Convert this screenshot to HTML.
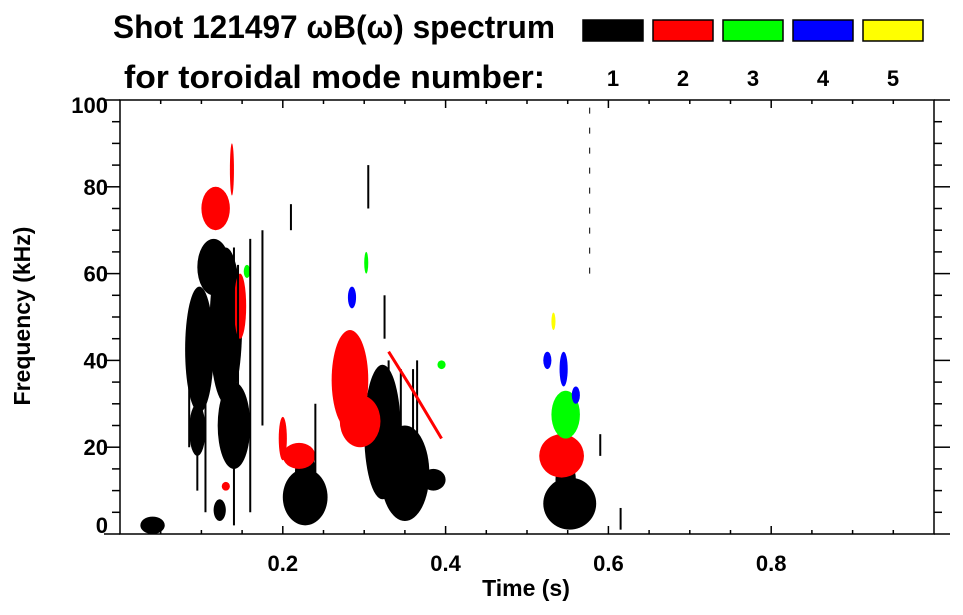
<!DOCTYPE html>
<html><head><meta charset="utf-8"><style>
html,body{margin:0;padding:0;background:#fff;}
svg{display:block;font-family:"Liberation Sans",sans-serif;font-weight:bold;}
</style></head><body>
<svg id="chart" width="963" height="615" viewBox="0 0 963 615" xmlns="http://www.w3.org/2000/svg">
<text x="113" y="38" font-size="32" textLength="442" lengthAdjust="spacingAndGlyphs">Shot 121497 ωB(ω) spectrum</text>
<text x="124" y="88" font-size="32" textLength="421" lengthAdjust="spacingAndGlyphs">for toroidal mode number:</text>
<g id="legend"></g>
<g id="marks"></g>
<g id="axes"></g>
<text x="526" y="596" font-size="23" text-anchor="middle">Time (s)</text>
<text transform="translate(30,316) rotate(-90)" font-size="23" text-anchor="middle">Frequency (kHz)</text>
</svg>
<script>
const modeColors = ['#000000','#ff0000','#00ff00','#0000ff','#ffff00'];
const modeLabels = ['1','2','3','4','5'];
const xTicks = [0.2,0.4,0.6,0.8];
const yTicks = [0,20,40,60,80,100];
// blobs: mode, t0, t1, f0, f1
const blobMode = [1,1,1,1,1,1,1,1,1,1,1,1,1,1, 2,2,2,2,2,2,2,2,2, 3,3,3,3, 4,4,4,4, 5];
const blobT0 = [0.08,0.085,0.11,0.12,0.095,0.115,0.2,0.215,0.30,0.32,0.37,0.52,0.535,0.025, 0.26,0.27,0.2,0.195,0.515,0.10,0.14,0.135,0.125, 0.53,0.30,0.152,0.39, 0.52,0.54,0.555,0.28, 0.53];
const blobT1 = [0.115,0.105,0.15,0.16,0.135,0.13,0.255,0.24,0.345,0.38,0.40,0.585,0.56,0.055, 0.305,0.32,0.24,0.205,0.57,0.135,0.155,0.14,0.135, 0.565,0.305,0.16,0.40, 0.53,0.55,0.565,0.29, 0.535];
const blobF0 = [28,18,30,15,55,3,2,10,8,3,10,1,8,0, 24,20,15,17,13,70,45,78,10, 22,60,59,38, 38,34,30,52, 47];
const blobF1 = [57,30,66,35,68,8,15,19,39,25,15,13,17,4, 47,32,21,27,23,80,60,90,12, 33,65,62,40, 42,42,34,57, 51];
// streaks: mode, t, f0, f1
const streakMode = [1,1,1,1,1,1,1,1,1,1,1,1,1,1,1,1,1,1,1];
const streakT = [0.14,0.16,0.175,0.095,0.105,0.125,0.085,0.145,0.21,0.33,0.345,0.36,0.365,0.577,0.305,0.325,0.24,0.615,0.59];
const streakF0 = [2,5,25,10,5,20,20,20,70,15,10,5,20,60,75,45,3,1,18];
const streakF1 = [66,68,70,40,55,45,40,62,76,40,38,38,40,100,85,55,30,6,23];
const streakWidth = [2,2,2,2,2,2,2,2,2,2,2,2,2,1,2,2,2,2,2];
// red diagonal line
const lineT = [0.33,0.36,0.395];
const lineF = [42,33,22];

const X0=120, X1=934, Y0=534, Y1=100;
const xs = t => X0 + t*(X1-X0);
const ys = f => Y0 - f*(Y0-Y1)/100;
const NS='http://www.w3.org/2000/svg';
function mk(tag, parent){const e=document.createElementNS(NS,tag);parent.appendChild(e);return e;}
const legend=document.getElementById('legend'), marks=document.getElementById('marks'), axes=document.getElementById('axes');

modeColors.forEach((c,i)=>{
  const r=mk('rect',legend);
  
  
  r.setAttribute('x',583+i*70);r.setAttribute('y',20);r.setAttribute('width',60);r.setAttribute('height',21);
  r.setAttribute('fill',c);r.setAttribute('stroke','#000');r.setAttribute('stroke-width','1.5');
  const t=mk('text',legend);
  
  
  t.setAttribute('x',613+i*70);t.setAttribute('y',86);t.setAttribute('font-size','22');t.setAttribute('text-anchor','middle');
  t.textContent=modeLabels[i];
});

blobMode.forEach((m,i)=>{
  const e=mk('ellipse',marks);
  
  
  const x0=xs(blobT0[i]),x1=xs(blobT1[i]),y0=ys(blobF0[i]),y1=ys(blobF1[i]);
  e.setAttribute('cx',(x0+x1)/2);e.setAttribute('cy',(y0+y1)/2);
  e.setAttribute('rx',Math.abs(x1-x0)/2);e.setAttribute('ry',Math.abs(y0-y1)/2);
  e.setAttribute('fill',modeColors[m-1]);
});
streakMode.forEach((m,i)=>{
  const l=mk('line',marks);
  
  
  l.setAttribute('x1',xs(streakT[i]));l.setAttribute('x2',xs(streakT[i]));
  l.setAttribute('y1',ys(streakF0[i]));l.setAttribute('y2',ys(streakF1[i]));
  l.setAttribute('stroke',modeColors[m-1]);l.setAttribute('stroke-width',streakWidth[i]);
  if(streakWidth[i]===1) l.setAttribute('stroke-dasharray','6 14');
});
const pl=mk('polyline',marks);


pl.setAttribute('points',lineT.map((t,i)=>xs(t)+','+ys(lineF[i])).join(' '));
pl.setAttribute('fill','none');pl.setAttribute('stroke','#ff0000');pl.setAttribute('stroke-width','3');

const fr=mk('rect',axes);


fr.setAttribute('x',X0);fr.setAttribute('y',Y1);fr.setAttribute('width',X1-X0);fr.setAttribute('height',Y0-Y1);
fr.setAttribute('fill','none');fr.setAttribute('stroke','#000');fr.setAttribute('stroke-width','1.5');
function ln(x1,y1,x2,y2,name){const l=mk('line',axes);
  
  
  l.setAttribute('x1',x1);l.setAttribute('y1',y1);l.setAttribute('x2',x2);l.setAttribute('y2',y2);l.setAttribute('stroke','#000');l.setAttribute('stroke-width','1.5');}
for(let k=1;k<20;k++){const t=k*0.05,x=xs(t),maj=(k%4===0);const L=maj?8:4;
  ln(x,Y0,x,Y0-L,'x-tick');ln(x,Y1,x,Y1+L,'x-tick-top');}
for(let k=0;k<=20;k++){const f=k*5,y=ys(f),maj=(k%4===0);const L=maj?16:8;
  ln(X0,y,X0-L,y,'y-tick');ln(X1,y,X1+L,y,'y-tick-right');}
xTicks.forEach(t=>{const e=mk('text',axes);
  
  
  e.setAttribute('x',xs(t));e.setAttribute('y',571);e.setAttribute('font-size','22');e.setAttribute('text-anchor','middle');e.textContent=t.toFixed(1);});
yTicks.forEach(f=>{const e=mk('text',axes);
  
  
  const y=Math.min(Math.max(ys(f),105),525);
  e.setAttribute('x',108);e.setAttribute('y',y+8);e.setAttribute('font-size','22');e.setAttribute('text-anchor','end');e.textContent=String(f);});
</script>
</body></html>
